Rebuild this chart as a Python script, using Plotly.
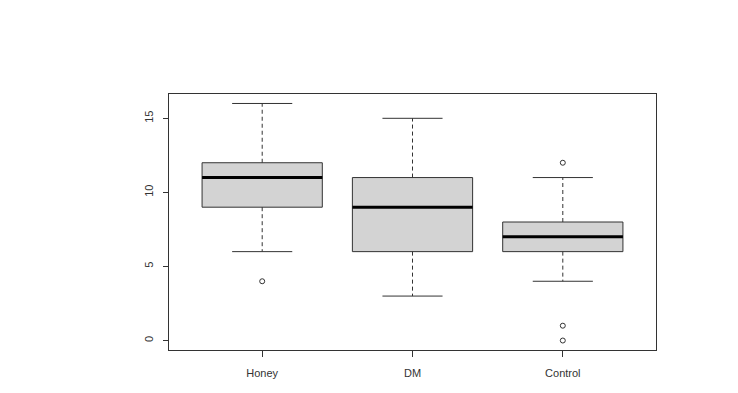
import plotly.graph_objects as go

categories = ["Honey", "DM", "Control"]
lower_whisker = [6, 3, 4]
q1 = [9, 6, 6]
median = [11, 9, 7]
q3 = [12, 11, 8]
upper_whisker = [16, 15, 11]
outliers = [[4], [], [12, 1, 0]]
y_ticks = [0, 5, 10, 15]

BOX_HALF = 0.4
CAP_HALF = 0.2
EDGE = "#333333"

fig = go.Figure()
xs = list(range(1, len(categories) + 1))

for i, x in enumerate(xs):
    # box
    fig.add_trace(go.Scatter(
        x=[x - BOX_HALF, x + BOX_HALF, x + BOX_HALF, x - BOX_HALF, x - BOX_HALF],
        y=[q1[i], q1[i], q3[i], q3[i], q1[i]],
        mode="lines", fill="toself", fillcolor="#d3d3d3",
        line=dict(color=EDGE, width=1), hoverinfo="skip", showlegend=False))
    # whiskers (dashed)
    fig.add_trace(go.Scatter(
        x=[x, x, None, x, x], y=[q3[i], upper_whisker[i], None, q1[i], lower_whisker[i]],
        mode="lines", line=dict(color=EDGE, width=1, dash="4px,3px"),
        hoverinfo="skip", showlegend=False))
    # caps
    fig.add_trace(go.Scatter(
        x=[x - CAP_HALF, x + CAP_HALF, None, x - CAP_HALF, x + CAP_HALF],
        y=[upper_whisker[i], upper_whisker[i], None, lower_whisker[i], lower_whisker[i]],
        mode="lines", line=dict(color=EDGE, width=1),
        hoverinfo="skip", showlegend=False))
    # median
    fig.add_trace(go.Scatter(
        x=[x - BOX_HALF, x + BOX_HALF], y=[median[i], median[i]],
        mode="lines", line=dict(color="black", width=3),
        hoverinfo="skip", showlegend=False))
    # outliers
    if outliers[i]:
        fig.add_trace(go.Scatter(
            x=[x] * len(outliers[i]), y=outliers[i], mode="markers",
            marker=dict(symbol="circle-open", size=5, color=EDGE, line=dict(width=1)),
            hoverinfo="skip", showlegend=False))

fig.update_layout(
    width=738, height=393,
    margin=dict(l=161, r=90, t=86, b=51),
    paper_bgcolor="white", plot_bgcolor="white",
    font=dict(family="Liberation Sans Narrow, Liberation Sans, Arial", size=11, color="#333333"),
    xaxis=dict(range=[0.38, 3.62], tickvals=xs, ticktext=categories,
               showgrid=False, zeroline=False, showline=True, mirror=True,
               linecolor=EDGE, linewidth=1, ticks="outside", ticklen=6,
               tickcolor=EDGE, ticklabelstandoff=7),
    yaxis=dict(range=[-0.64, 16.64], tickvals=y_ticks,
               showgrid=False, zeroline=False, showline=True, mirror=True,
               linecolor=EDGE, linewidth=1, ticks="outside", ticklen=5,
               tickcolor=EDGE, tickangle=-90, ticklabelstandoff=6),
)

fig.write_html("out.html")
